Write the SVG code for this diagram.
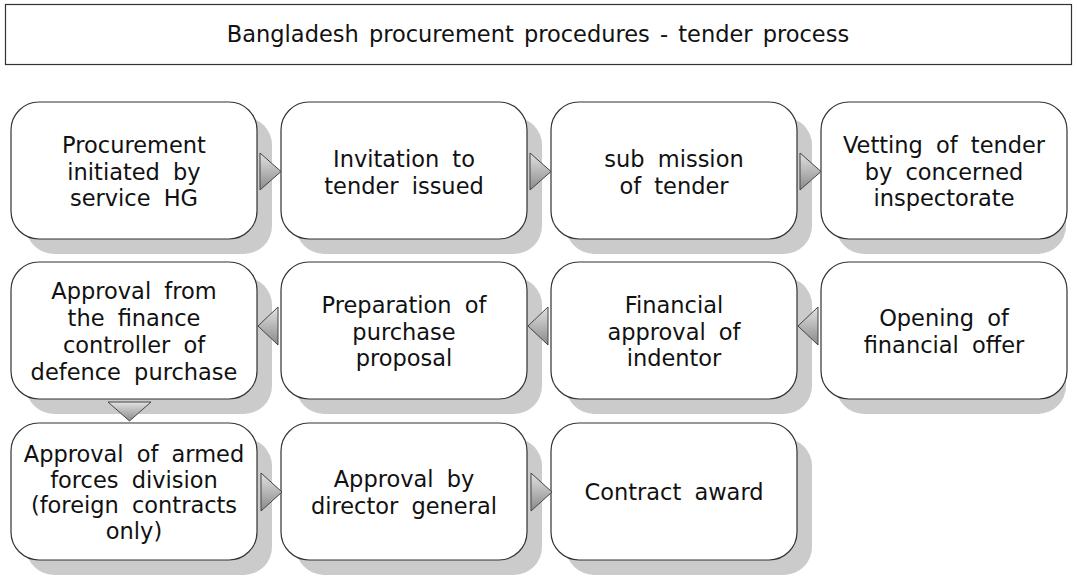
<svg xmlns="http://www.w3.org/2000/svg" width="1077" height="576" viewBox="0 0 1077 576">
<defs>
<linearGradient id="g" x1="0" y1="0" x2="0" y2="1">
<stop offset="0" stop-color="#e2e2e2"/>
<stop offset="1" stop-color="#8a8a8a"/>
</linearGradient>
<style>
.box{fill:#fff;stroke:#333;stroke-width:1.2}
.sh{fill:#cbcbcb}
.t{font-family:"DejaVu Sans","Noto Sans",sans-serif;font-size:22.5px;fill:#111;text-anchor:middle;word-spacing:6px}
.ttl{font-family:"DejaVu Sans","Noto Sans",sans-serif;font-size:22.5px;fill:#111;text-anchor:middle;word-spacing:3px}
.ar{fill:url(#g);stroke:#444;stroke-width:1}
</style>
</defs>
<rect width="1077" height="576" fill="#fff"/>
<g id="title">
<rect x="5.5" y="4.5" width="1066" height="60" fill="#fff" stroke="#333" stroke-width="1.2"/>
<text class="ttl" x="538" y="42">Bangladesh procurement procedures - tender process</text>
</g>
<g id="n1"><rect class="sh" x="26" y="117" width="246" height="137" rx="28"/><rect class="box" x="11" y="102" width="246" height="137" rx="28"/>
<text class="t" x="134" y="153">Procurement</text><text class="t" x="134" y="179.5">initiated by</text><text class="t" x="134" y="206">service HG</text></g>
<g id="n2"><rect class="sh" x="296" y="117" width="246" height="137" rx="28"/><rect class="box" x="281" y="102" width="246" height="137" rx="28"/>
<text class="t" x="404" y="167">Invitation to</text><text class="t" x="404" y="193.5">tender issued</text></g>
<g id="n3"><rect class="sh" x="566" y="117" width="246" height="137" rx="28"/><rect class="box" x="551" y="102" width="246" height="137" rx="28"/>
<text class="t" x="674" y="167">sub mission</text><text class="t" x="674" y="193.5">of tender</text></g>
<g id="n4"><rect class="sh" x="836" y="117" width="230" height="137" rx="28"/><rect class="box" x="821" y="102" width="246" height="137" rx="28"/>
<text class="t" x="944" y="153">Vetting of tender</text><text class="t" x="944" y="179.5">by concerned</text><text class="t" x="944" y="206">inspectorate</text></g>
<g id="n5"><rect class="sh" x="26" y="277" width="246" height="137" rx="28"/><rect class="box" x="11" y="262" width="246" height="137" rx="28"/>
<text class="t" x="134" y="299">Approval from</text><text class="t" x="134" y="326">the finance</text><text class="t" x="134" y="353">controller of</text><text class="t" x="134" y="380">defence purchase</text></g>
<g id="n6"><rect class="sh" x="296" y="277" width="246" height="137" rx="28"/><rect class="box" x="281" y="262" width="246" height="137" rx="28"/>
<text class="t" x="404" y="313">Preparation of</text><text class="t" x="404" y="339.5">purchase</text><text class="t" x="404" y="366">proposal</text></g>
<g id="n7"><rect class="sh" x="566" y="277" width="246" height="137" rx="28"/><rect class="box" x="551" y="262" width="246" height="137" rx="28"/>
<text class="t" x="674" y="313">Financial</text><text class="t" x="674" y="339.5">approval of</text><text class="t" x="674" y="366">indentor</text></g>
<g id="n8"><rect class="sh" x="836" y="277" width="230" height="137" rx="28"/><rect class="box" x="821" y="262" width="246" height="137" rx="28"/>
<text class="t" x="944" y="326">Opening of</text><text class="t" x="944" y="352.5">financial offer</text></g>
<g id="n9"><rect class="sh" x="26" y="438" width="246" height="137" rx="28"/><rect class="box" x="11" y="423" width="246" height="137" rx="28"/>
<text class="t" x="134" y="462">Approval of armed</text><text class="t" x="134" y="487.5">forces division</text><text class="t" x="134" y="513">(foreign contracts</text><text class="t" x="134" y="538.5">only)</text></g>
<g id="n10"><rect class="sh" x="296" y="438" width="246" height="137" rx="28"/><rect class="box" x="281" y="423" width="246" height="137" rx="28"/>
<text class="t" x="404" y="487">Approval by</text><text class="t" x="404" y="513.5">director general</text></g>
<g id="n11"><rect class="sh" x="566" y="438" width="246" height="137" rx="28"/><rect class="box" x="551" y="423" width="246" height="137" rx="28"/>
<text class="t" x="674" y="500">Contract award</text></g>
<g id="connectors">
<polygon class="ar" points="260,153 281,171.5 260,190"/>
<polygon class="ar" points="530,153 551,171.5 530,190"/>
<polygon class="ar" points="800,153 821,171.5 800,190"/>
<polygon class="ar" points="818,307 798,326 818,345"/>
<polygon class="ar" points="548,307 528,326 548,345"/>
<polygon class="ar" points="278,307 258,326 278,345"/>
<polygon class="ar" points="108,402 151,402 129.5,421"/>
<polygon class="ar" points="261,473 282,492 261,511"/>
<polygon class="ar" points="531,473 552,492 531,511"/>
</g>
</svg>
